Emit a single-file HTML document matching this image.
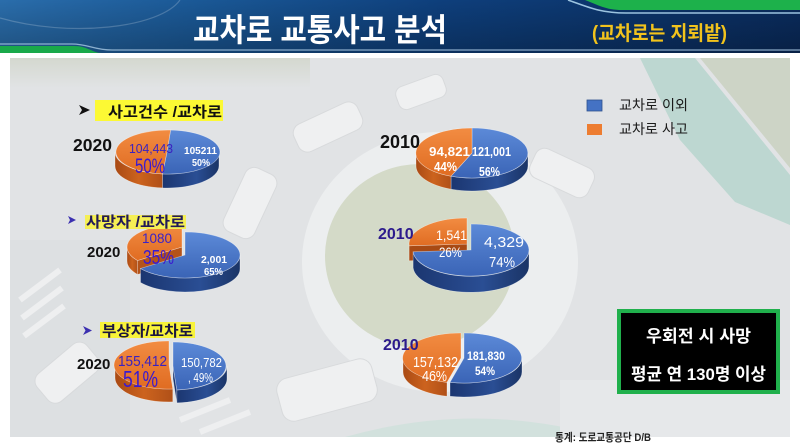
<!DOCTYPE html>
<html><head><meta charset="utf-8"><style>
html,body{margin:0;padding:0;background:#fff;width:800px;height:448px;overflow:hidden;}
svg{display:block;}
text{font-family:"Liberation Sans","Noto Sans CJK KR",sans-serif;}
</style></head><body>
<svg width="800" height="448" viewBox="0 0 800 448" xmlns="http://www.w3.org/2000/svg">
<defs>
<linearGradient id="hdr" x1="0" y1="0" x2="1" y2="0">
<stop offset="0" stop-color="#2a6dab"/><stop offset="0.25" stop-color="#1a5896"/>
<stop offset="0.55" stop-color="#0e3f7c"/><stop offset="1" stop-color="#0a2b5c"/>
</linearGradient>
<linearGradient id="hdrv" x1="0" y1="0" x2="0" y2="1">
<stop offset="0" stop-color="#000" stop-opacity="0"/><stop offset="1" stop-color="#000" stop-opacity="0.25"/>
</linearGradient>
<linearGradient id="tree" x1="0" y1="0" x2="0" y2="1">
<stop offset="0" stop-color="#d4d8cf"/><stop offset="1" stop-color="#e1e3e5"/>
</linearGradient>
<linearGradient id="bt" x1="0" y1="0" x2="0" y2="1">
<stop offset="0" stop-color="#5c8ad8"/><stop offset="1" stop-color="#3a64b6"/>
</linearGradient>
<linearGradient id="bs" x1="0" y1="0" x2="1" y2="0">
<stop offset="0" stop-color="#1b3670"/><stop offset="0.6" stop-color="#2a4e94"/><stop offset="1" stop-color="#1a3466"/>
</linearGradient>
<linearGradient id="ot" x1="0" y1="0" x2="0" y2="1">
<stop offset="0" stop-color="#f28c42"/><stop offset="1" stop-color="#e06c22"/>
</linearGradient>
<linearGradient id="os" x1="0" y1="0" x2="1" y2="0">
<stop offset="0" stop-color="#a94a14"/><stop offset="0.5" stop-color="#cc631e"/><stop offset="1" stop-color="#b05018"/>
</linearGradient>
<clipPath id="ph"><rect x="10" y="58" width="780" height="379"/></clipPath>
</defs>

<!-- Header -->
<rect x="0" y="0" width="800" height="53" fill="url(#hdr)"/>
<rect x="0" y="0" width="800" height="53" fill="url(#hdrv)"/>
<path d="M0,18 C70,38 160,28 180,0" fill="none" stroke="#ffffff" stroke-opacity="0.2" stroke-width="1.2"/>
<path d="M585,0 H800 V10 H622 C606,10 598,5 585,0 Z" fill="#1db14b"/>
<path d="M568,0 C588,7 600,13 626,13 H800" fill="none" stroke="#9cc4e0" stroke-width="1.5"/>
<path d="M0,46 H74 C88,46 92,53 102,53 H0 Z" fill="#19a94a"/>
<path d="M0,44 H72 C88,44 94,50 112,50 H800" fill="none" stroke="#a9c9e4" stroke-width="1.3" stroke-opacity="0.8"/>
<text x="193" y="41" font-size="32" font-weight="bold" fill="#ffffff" textLength="254" lengthAdjust="spacingAndGlyphs">교차로 교통사고 분석</text>
<text x="592" y="40" font-size="20" font-weight="bold" fill="#f2c31c" textLength="135" lengthAdjust="spacingAndGlyphs">(교차로는 지뢰밭)</text>

<!-- Photo background -->
<g clip-path="url(#ph)">
<rect x="10" y="58" width="780" height="379" fill="#e1e3e5"/>
<rect x="10" y="58" width="300" height="30" fill="url(#tree)"/>
<rect x="10" y="240" width="120" height="197" fill="#dcdee1" opacity="0.7"/>
<ellipse cx="440" cy="262" rx="138" ry="130" fill="#eceeef"/>
<ellipse cx="420" cy="256" rx="95" ry="92" fill="#d4dac8"/>
<polygon points="640,58 695,58 790,175 790,225 735,202 680,140" fill="#bdd7d1"/>
<path d="M700,58 H790 V168 Z" fill="#cdd4c6"/>
<path d="M345,437 Q475,400 605,437 Z" fill="#d2e1dd"/>
<rect x="560" y="380" width="230" height="57" fill="#e6e8ea"/>
<g fill="#eff0f1" stroke="#d8dadc" stroke-width="1">
<rect x="293" y="112" width="70" height="30" rx="10" transform="rotate(-25 328 127)"/>
<rect x="233" y="168" width="34" height="70" rx="10" transform="rotate(25 250 203)"/>
<rect x="396" y="80" width="50" height="24" rx="8" transform="rotate(-20 421 92)"/>
<rect x="530" y="157" width="64" height="32" rx="10" transform="rotate(25 562 173)"/>
<rect x="35" y="355" width="65" height="36" rx="10" transform="rotate(-40 67 373)"/>
<rect x="278" y="368" width="98" height="44" rx="12" transform="rotate(-15 327 390)"/>
</g>
<g stroke="#f0f1f2" stroke-width="6" opacity="0.9">
<line x1="20" y1="300" x2="60" y2="270"/><line x1="22" y1="318" x2="62" y2="288"/><line x1="24" y1="336" x2="64" y2="306"/>
<line x1="180" y1="420" x2="230" y2="400"/><line x1="200" y1="432" x2="250" y2="412"/>
</g>
</g>

<!-- Pie 1 -->
<g stroke="#ffffff" stroke-opacity="0.5" stroke-width="0.6">
<path d="M219,152 A52,22 0 0,1 162.5,173.9 L162.5,187.9 A52,22 0 0,0 219,166 Z" fill="url(#bs)"/>
<path d="M162.5,173.9 A52,22 0 0,1 115,152 L115,166 A52,22 0 0,0 162.5,187.9 Z" fill="url(#os)"/>
<path d="M167,152 L170.6,130.05 A52,22 0 1,1 162.5,173.9 Z" fill="url(#bt)"/>
<path d="M167,152 L162.5,173.9 A52,22 0 0,1 170.6,130.05 Z" fill="url(#ot)"/>
</g>
<text x="129" y="153" font-size="13" fill="#3a22c0" textLength="44" lengthAdjust="spacingAndGlyphs">104,443</text>
<text x="135" y="173" font-size="21" fill="#3a1ad0" textLength="30" lengthAdjust="spacingAndGlyphs">50%</text>
<text x="184" y="154" font-size="10.5" font-weight="bold" fill="#fff" textLength="33" lengthAdjust="spacingAndGlyphs">105211</text>
<text x="192" y="166" font-size="10.5" font-weight="bold" fill="#fff" textLength="18" lengthAdjust="spacingAndGlyphs">50%</text>

<!-- Pie 2 -->
<g stroke="#ffffff" stroke-opacity="0.5" stroke-width="0.6">
<path d="M528,153 A56,25 0 0,1 451,176.2 L451,189.2 A56,25 0 0,0 528,166 Z" fill="url(#bs)"/>
<path d="M451,176.2 A56,25 0 0,1 416,153 L416,166 A56,25 0 0,0 451,189.2 Z" fill="url(#os)"/>
<path d="M472,153 L472,128 A56,25 0 1,1 451,176.2 Z" fill="url(#bt)"/>
<path d="M472,153 L451,176.2 A56,25 0 0,1 472,128 Z" fill="url(#ot)"/>
</g>
<text x="429" y="156" font-size="13" font-weight="bold" fill="#fff" textLength="41" lengthAdjust="spacingAndGlyphs">94,821</text>
<text x="434" y="171" font-size="13" font-weight="bold" fill="#fff" textLength="23" lengthAdjust="spacingAndGlyphs">44%</text>
<text x="472" y="156" font-size="13" font-weight="bold" fill="#fff" textLength="39" lengthAdjust="spacingAndGlyphs">121,001</text>
<text x="479" y="176" font-size="13" font-weight="bold" fill="#fff" textLength="21" lengthAdjust="spacingAndGlyphs">56%</text>

<!-- Pie 3 -->
<g stroke="#ffffff" stroke-opacity="0.5" stroke-width="0.6">
<path d="M137.5,260.5 A55,23 0 0,1 127,247 L127,261 A55,23 0 0,0 137.5,274.5 Z" fill="url(#os)"/>
<polygon points="182,247 137.5,260.5 137.5,274.5 182,261" fill="#b4531a"/>
<path d="M182,247 L137.5,260.5 A55,23 0 0,1 182,224 Z" fill="url(#ot)"/>
<path d="M240,255 A55,23 0 0,1 140.5,268.5 L140.5,282.5 A55,23 0 0,0 240,269 Z" fill="url(#bs)"/>
<path d="M185,255 L185,232 A55,23 0 1,1 140.5,268.5 Z" fill="url(#bt)"/>
</g>
<text x="142" y="243" font-size="14" fill="#3a22c8" textLength="30" lengthAdjust="spacingAndGlyphs">1080</text>
<text x="143" y="264" font-size="20" fill="#3a1ad0" textLength="31" lengthAdjust="spacingAndGlyphs">35%</text>
<text x="201" y="263" font-size="10.5" font-weight="bold" fill="#fff" textLength="26" lengthAdjust="spacingAndGlyphs">2,001</text>
<text x="204" y="275" font-size="10.5" font-weight="bold" fill="#fff" textLength="19" lengthAdjust="spacingAndGlyphs">65%</text>

<!-- Pie 4 -->
<g stroke="#ffffff" stroke-opacity="0.5" stroke-width="0.6">
<polygon points="467,244 409.1,245.8 409.1,260.8 467,259" fill="#a84a14"/>
<path d="M467,244 L409.1,245.8 A58,26 0 0,1 467,218 Z" fill="url(#ot)"/>
<path d="M529,250 A58,26 0 0,1 413.1,251.8 L413.1,267.8 A58,26 0 0,0 529,266 Z" fill="url(#bs)"/>
<path d="M471,250 L471,224 A58,26 0 1,1 413.1,251.8 Z" fill="url(#bt)"/>
</g>
<text x="436" y="240" font-size="14" fill="#fff" textLength="31" lengthAdjust="spacingAndGlyphs">1,541</text>
<text x="439" y="257" font-size="14" fill="#fff" textLength="23" lengthAdjust="spacingAndGlyphs">26%</text>
<text x="484" y="247" font-size="15" fill="#fff" textLength="40" lengthAdjust="spacingAndGlyphs">4,329</text>
<text x="489" y="267" font-size="15" fill="#fff" textLength="26" lengthAdjust="spacingAndGlyphs">74%</text>

<!-- Pie 5 -->
<g stroke="#ffffff" stroke-opacity="0.5" stroke-width="0.6">
<path d="M227,366 A54,24 0 0,1 176.8,389.9 L176.8,402.9 A54,24 0 0,0 227,379 Z" fill="url(#bs)"/>
<polygon points="173,366 176.8,389.9 176.8,402.9 173,379" fill="#1c3670"/>
<path d="M173,366 L173,342 A54,24 0 0,1 176.8,389.9 Z" fill="url(#bt)"/>
<path d="M172.8,388.9 A54,24 0 0,1 115,365 L115,378 A54,24 0 0,0 172.8,401.9 Z" fill="url(#os)"/>
<path d="M169,365 L172.8,388.9 A54,24 0 1,1 169,341 Z" fill="url(#ot)"/>
</g>
<text x="118" y="366" font-size="15" fill="#3a22c0" textLength="49" lengthAdjust="spacingAndGlyphs">155,412</text>
<text x="123" y="387" font-size="23" fill="#3a1ad0" textLength="35" lengthAdjust="spacingAndGlyphs">51%</text>
<text x="181" y="367" font-size="13" fill="#fff" textLength="41" lengthAdjust="spacingAndGlyphs">150,782</text>
<text x="188" y="382" font-size="13" fill="#fff" textLength="25" lengthAdjust="spacingAndGlyphs">, 49%</text>

<!-- Pie 6 -->
<g stroke="#ffffff" stroke-opacity="0.5" stroke-width="0.6">
<path d="M522,358 A58,25 0 0,1 450,382.3 L450,396.3 A58,25 0 0,0 522,372 Z" fill="url(#bs)"/>
<path d="M464,358 L464,333 A58,25 0 1,1 450,382.3 Z" fill="url(#bt)"/>
<path d="M447,382.3 A58,25 0 0,1 403,358 L403,372 A58,25 0 0,0 447,396.3 Z" fill="url(#os)"/>
<path d="M461,358 L447,382.3 A58,25 0 0,1 461,333 Z" fill="url(#ot)"/>
</g>
<text x="413" y="367" font-size="15" fill="#fff" textLength="45" lengthAdjust="spacingAndGlyphs">157,132</text>
<text x="422" y="381" font-size="15" fill="#fff" textLength="25" lengthAdjust="spacingAndGlyphs">46%</text>
<text x="467" y="360" font-size="12" font-weight="bold" fill="#fff" textLength="38" lengthAdjust="spacingAndGlyphs">181,830</text>
<text x="475" y="375" font-size="12" font-weight="bold" fill="#fff" textLength="20" lengthAdjust="spacingAndGlyphs">54%</text>

<!-- Section labels -->
<polygon points="79,105 90,110 79,115 82,110" fill="#111"/>
<rect x="95" y="100" width="128" height="21" fill="#fcf934"/>
<text x="108" y="117" font-size="15" font-weight="bold" fill="#111" textLength="114" lengthAdjust="spacingAndGlyphs">사고건수 /교차로</text>

<polygon points="68,216 76,220 68,224 70,220" fill="#3b2fb0"/>
<rect x="85" y="215" width="101" height="14" fill="#f5ef55"/>
<text x="86" y="227" font-size="15" font-weight="bold" fill="#231a58" textLength="99" lengthAdjust="spacingAndGlyphs">사망자 /교차로</text>

<polygon points="83,326 92,330.5 83,335 85.5,330.5" fill="#3b2fb0"/>
<rect x="100" y="322" width="95" height="16" fill="#f8f33a"/>
<text x="102" y="336" font-size="15" font-weight="bold" fill="#1a1540" textLength="91" lengthAdjust="spacingAndGlyphs">부상자/교차로</text>

<!-- Year labels -->
<text x="73" y="151" font-size="17.5" font-weight="bold" fill="#111">2020</text>
<text x="380" y="148" font-size="18" font-weight="bold" fill="#111">2010</text>
<text x="87" y="257" font-size="15" font-weight="bold" fill="#111">2020</text>
<text x="378" y="239" font-size="16" font-weight="bold" fill="#2c1a8c">2010</text>
<text x="77" y="369" font-size="15" font-weight="bold" fill="#111">2020</text>
<text x="383" y="350" font-size="16" font-weight="bold" fill="#2c1a8c">2010</text>

<!-- Legend -->
<rect x="587" y="100" width="15" height="11" fill="#4472c4" stroke="#2f528f" stroke-width="0.8"/>
<text x="619" y="110" font-size="14" fill="#1a1a1a" textLength="69" lengthAdjust="spacingAndGlyphs">교차로 이외</text>
<rect x="587" y="124" width="15" height="11" fill="#ed7d31"/>
<text x="619" y="134" font-size="14" fill="#1a1a1a" textLength="69" lengthAdjust="spacingAndGlyphs">교차로 사고</text>

<!-- Black box -->
<rect x="619" y="311" width="159" height="81" fill="#000" stroke="#20b04c" stroke-width="4"/>
<text x="646" y="342" font-size="17" font-weight="bold" fill="#fff" textLength="105" lengthAdjust="spacingAndGlyphs">우회전 시 사망</text>
<text x="631" y="380" font-size="17" font-weight="bold" fill="#fff" textLength="135" lengthAdjust="spacingAndGlyphs">평균 연 130명 이상</text>

<!-- Footer -->
<text x="555" y="441" font-size="11" font-weight="bold" fill="#222" textLength="96" lengthAdjust="spacingAndGlyphs">통계: 도로교통공단 D/B</text>
</svg>
</body></html>
